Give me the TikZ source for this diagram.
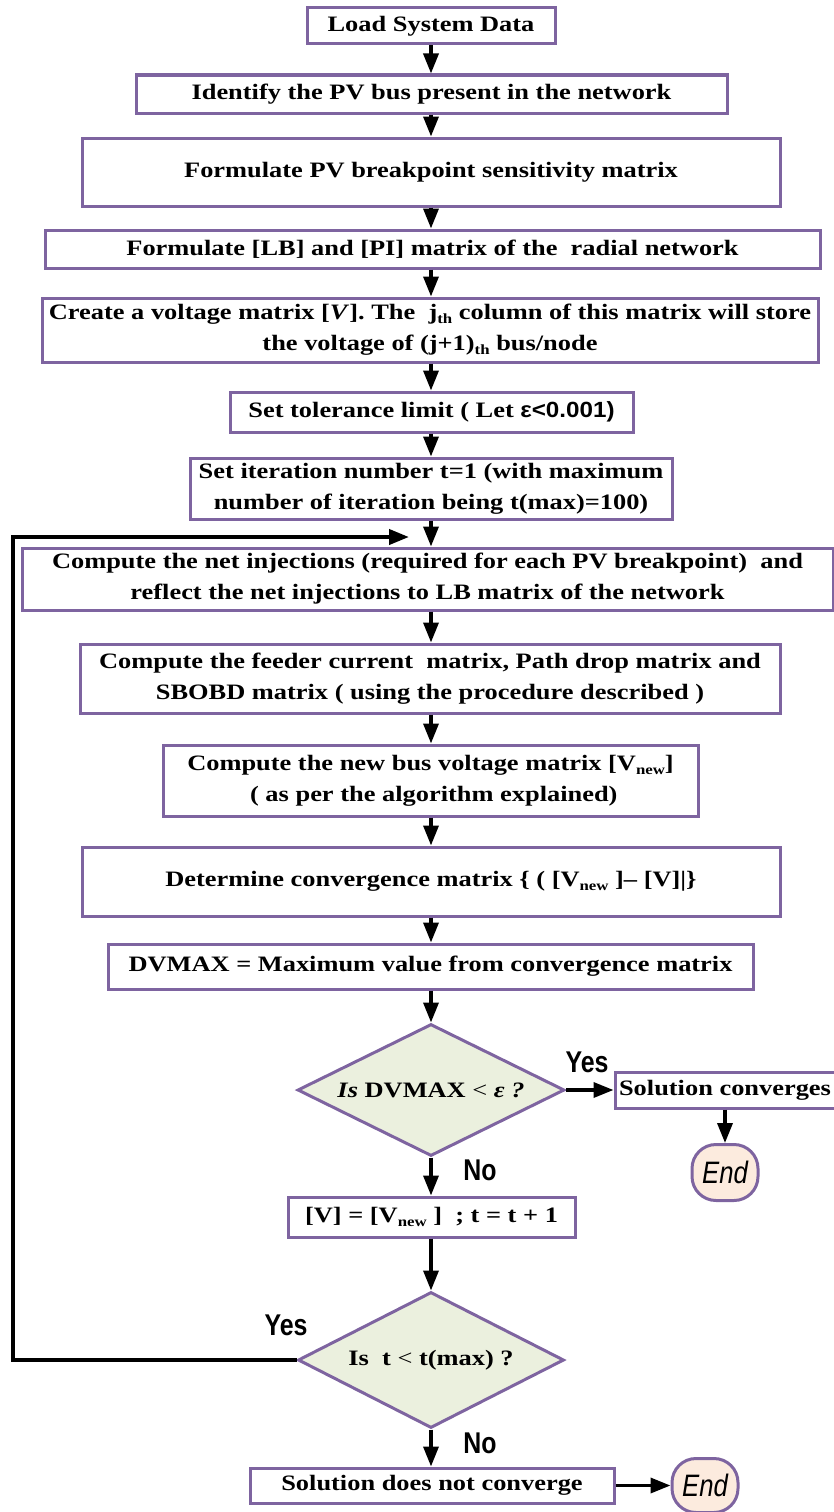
\documentclass[tikz,border=0pt]{standalone}
\usepackage{fontspec}
\setmainfont{Liberation Serif}[FakeStretch=1.2]
\newfontfamily\sansbody{Liberation Sans}[FakeStretch=1.1]
\newfontfamily\tagfont{Liberation Sans}[FakeStretch=0.83]
\usetikzlibrary{shapes.geometric,arrows.meta}
\definecolor{boxpurple}{RGB}{126,100,160}
\definecolor{decfill}{RGB}{235,240,222}
\definecolor{endfill}{RGB}{252,235,222}
% small lowered text for subscripts
\newcommand{\lowidx}[1]{\raisebox{-0.4ex}{\fontsize{14}{14}\selectfont #1}}
\begin{document}
\begin{tikzpicture}[x=1pt,y=-1pt,
  stepbox/.style={draw=boxpurple, line width=3pt, fill=white, inner sep=0pt,
    align=center, font=\bfseries\fontsize{22}{31}\selectfont},
  sz/.style 2 args={minimum width=#1pt, minimum height=#2pt},
  decision/.style={diamond, aspect=2, draw=boxpurple, line width=3pt, fill=decfill,
    inner sep=0pt, align=center, font=\bfseries\fontsize{22}{31}\selectfont},
  terminal/.style={draw=boxpurple, line width=3pt, fill=endfill, rounded corners=24pt,
    inner sep=0pt, minimum width=66pt, font=\tagfont\itshape\fontsize{31}{31}\selectfont},
  tag/.style={font=\tagfont\bfseries\fontsize{30}{30}\selectfont, inner sep=0pt},
  arr/.style={line width=3.5pt, -{Triangle[width=15pt,length=20pt]}},
  fb/.style={line width=4pt, -{Triangle[width=15pt,length=20pt]}}]
\useasboundingbox (0,0) rectangle (833,1512);
\coordinate (spine) at (431,0);

\node[stepbox, sz={248}{36}] (b1) at (431,26) {Load System Data};
\node[stepbox, sz={591}{38}] (b2) at (431.5,94) {Identify the PV bus present in the network};
\node[stepbox, sz={698}{68}] (b3) at (431,172) {Formulate PV breakpoint sensitivity matrix};
\node[stepbox, sz={775}{38}] (b4) at (432.5,249) {Formulate [LB] and [PI] matrix of the\ \ radial network};
\node[stepbox, sz={776}{64}] (b5) at (430,330) {Create a voltage matrix [\textit{V}]. The\ \ j\lowidx{th}\ column of this matrix will store\\the voltage of (j+1)\lowidx{th} bus/node};
\node[stepbox, sz={403}{40}] (b6) at (431.5,412) {Set tolerance limit ( Let {\sansbody\bfseries ε<0.001)}};
\node[stepbox, sz={482}{61}] (b7) at (431,488.5) {Set iteration number t=1 (with maximum\\number of iteration being t(max)=100)};
\node[stepbox, sz={811}{62}] (b8) at (427.5,579) {Compute the net injections (required for each PV breakpoint)\ \ and\\reflect the net injections to LB matrix of the network};
\node[stepbox, sz={700}{69}] (b9) at (430,678.5) {Compute the feeder current\ \ matrix, Path drop matrix and\\SBOBD matrix ( using the procedure described )};
\node[stepbox, sz={535}{71}] (b10) at (430.5,780.5) {Compute the new bus voltage matrix [V\lowidx{new}]\\\ ( as per the algorithm explained)};
\node[stepbox, sz={698}{69}] (b11) at (431,881.5) {Determine convergence matrix \{ ( [V\lowidx{new} ]– [V]|\}};
\node[stepbox, sz={645}{45}] (b12) at (430.5,966.5) {DVMAX = Maximum value from convergence matrix};

\node[decision, minimum width=267pt, minimum height=132pt] (d1) at (431,1090)
  {\textit{Is} DVMAX {\mdseries <} \textit{ε ?}};
\node[stepbox, sz={220}{36}] (sc) at (725,1090) {Solution converges};
\node[terminal, minimum height=56pt] (e1) at (725,1172.5) {End};
\node[stepbox, sz={287}{40}] (b13) at (431.5,1217) {[V] = [V\lowidx{new} ]\ \ ; t = t + 1};
\node[decision, minimum width=266pt, minimum height=136pt] (d2) at (431,1360)
  {Is\ \ t {\mdseries <} t(max) ?};
\node[stepbox, sz={364}{35}] (snc) at (432,1485.5) {Solution does not converge};
\node[terminal, minimum height=54pt] (e2) at (705,1485.5) {End};

\node[tag] (yes1) at (587,1062) {Yes};
\node[tag] (no1) at (480,1170) {No};
\node[tag] (yes2) at (286,1325) {Yes};
\node[tag] (no2) at (480,1443) {No};

% main flow, all along the central spine
\draw[arr] (b1.south -| spine) -- (b2.north -| spine);
\draw[arr] (b2.south -| spine) -- (b3.north -| spine);
\draw[arr] (b3.south -| spine) -- (b4.north -| spine);
\draw[arr] (b4.south -| spine) -- (b5.north -| spine);
\draw[arr] (b5.south -| spine) -- (b6.north -| spine);
\draw[arr] (b6.south -| spine) -- (b7.north -| spine);
\draw[arr] (b7.south -| spine) -- (b8.north -| spine);
\draw[arr] (b8.south -| spine) -- (b9.north -| spine);
\draw[arr] (b9.south -| spine) -- (b10.north -| spine);
\draw[arr] (b10.south -| spine) -- (b11.north -| spine);
\draw[arr] (b11.south -| spine) -- (b12.north -| spine);
\draw[arr] (b12.south -| spine) -- (d1.north);
\draw[arr] (d1.east) -- (sc.west);
\draw[arr] (sc.south) -- (e1.north);
\draw[arr] (d1.south) -- (b13.north -| spine);
\draw[arr] (b13.south -| spine) -- (d2.north);
\draw[arr] (d2.south) -- (snc.north -| spine);
\draw[arr] (snc.east) -- (e2.west);

% loop back for the next iteration
\coordinate (loopL) at (13,537);
\coordinate (loopend) at (409,537);
\draw[fb] (d2.west) -| (loopL) -- (loopend);
\end{tikzpicture}
\end{document}
